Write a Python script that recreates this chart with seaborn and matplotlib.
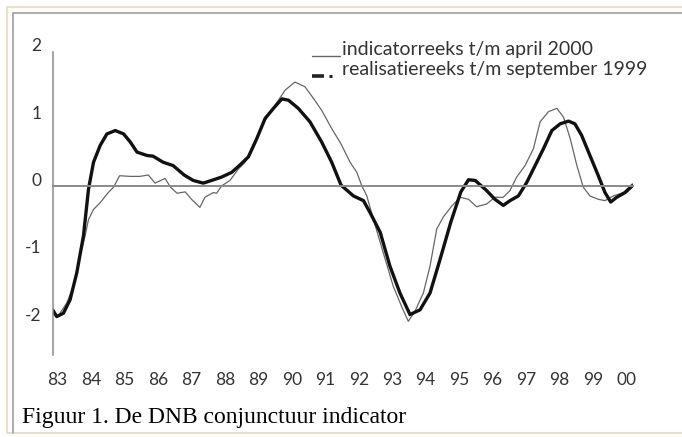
import matplotlib
matplotlib.use("Agg")
import matplotlib.pyplot as plt
import seaborn as sns
import pandas as pd
from matplotlib.ticker import MultipleLocator, FixedLocator
from matplotlib.transforms import ScaledTranslation, blended_transform_factory
from matplotlib.lines import Line2D

# realisatiereeks t/m september 1999 (thick line)
real_x = [1983.0, 1983.12, 1983.32, 1983.52, 1983.72, 1983.92, 1984.07, 1984.22, 1984.42, 1984.62,
          1984.87, 1985.12, 1985.32, 1985.52, 1985.82, 1986.0, 1986.3, 1986.6, 1986.93, 1987.2,
          1987.5, 1987.75, 1988.05, 1988.35, 1988.6, 1988.85, 1989.1, 1989.35, 1989.6, 1989.85,
          1990.05, 1990.34, 1990.69, 1991.04, 1991.34, 1991.62, 1991.99, 1992.29, 1992.49, 1992.79,
          1993.08, 1993.38, 1993.68, 1993.98, 1994.28, 1994.58, 1994.9, 1995.2, 1995.43, 1995.63,
          1995.97, 1996.22, 1996.47, 1996.67, 1996.92, 1997.17, 1997.42, 1997.67, 1997.92, 1998.17,
          1998.42, 1998.61, 1998.81, 1999.06, 1999.31, 1999.51, 1999.68, 1999.86, 2000.11, 2000.33]
real_y = [-1.83, -1.93, -1.88, -1.68, -1.28, -0.73, -0.04, 0.36, 0.61, 0.78,
          0.83, 0.78, 0.66, 0.51, 0.46, 0.45, 0.36, 0.31, 0.17, 0.09,
          0.05, 0.09, 0.14, 0.21, 0.32, 0.44, 0.71, 1.01, 1.16, 1.30,
          1.28, 1.16, 0.96, 0.66, 0.36, 0.02, -0.14, -0.21, -0.39, -0.68,
          -1.18, -1.58, -1.90, -1.83, -1.58, -1.08, -0.53, -0.08, 0.10, 0.09,
          -0.06, -0.19, -0.28, -0.21, -0.14, 0.06, 0.31, 0.56, 0.83, 0.93,
          0.97, 0.93, 0.76, 0.46, 0.16, -0.09, -0.23, -0.16, -0.09, 0.01]

# indicatorreeks t/m april 2000 (thin line)
ind_x = [1983.0, 1983.15, 1983.42, 1983.62, 1983.82, 1983.97, 1984.07, 1984.22, 1984.42, 1984.66,
         1984.82, 1985.0, 1985.32, 1985.6, 1985.86, 1986.06, 1986.36, 1986.52, 1986.72, 1986.96,
         1987.15, 1987.4, 1987.55, 1987.8, 1987.9, 1988.05, 1988.3, 1988.55, 1988.75, 1989.05,
         1989.35, 1989.65, 1989.95, 1990.24, 1990.54, 1990.79, 1991.04, 1991.34, 1991.62, 1991.89,
         1992.09, 1992.24, 1992.39, 1992.59, 1992.88, 1993.18, 1993.43, 1993.63, 1993.83, 1994.08,
         1994.28, 1994.48, 1994.68, 1994.93, 1995.18, 1995.43, 1995.67, 1995.97, 1996.22, 1996.47,
         1996.67, 1996.87, 1997.12, 1997.37, 1997.57, 1997.82, 1998.07, 1998.27, 1998.47, 1998.67,
         1998.86, 1999.06, 1999.31, 1999.51, 1999.76, 2000.06, 2000.33]
ind_y = [-1.88, -1.93, -1.73, -1.48, -1.03, -0.73, -0.49, -0.34, -0.24, -0.09,
         -0.01, 0.16, 0.15, 0.15, 0.17, 0.05, 0.12, -0.01, -0.10, -0.08,
         -0.19, -0.31, -0.16, -0.09, -0.10, 0.01, 0.09, 0.26, 0.36, 0.66,
         0.98, 1.21, 1.43, 1.55, 1.48, 1.31, 1.13, 0.86, 0.63, 0.36,
         0.21, 0.01, -0.14, -0.49, -0.98, -1.48, -1.78, -2.0, -1.85, -1.58,
         -1.18, -0.63, -0.45, -0.29, -0.16, -0.19, -0.30, -0.26, -0.16, -0.16,
         -0.06, 0.14, 0.31, 0.56, 0.96, 1.11, 1.16, 1.03, 0.71, 0.31,
         -0.01, -0.14, -0.19, -0.21, -0.14, -0.09, 0.04]

years = list(range(1983, 2001))
year_labels = ["83", "84", "85", "86", "87", "88", "89", "90", "91", "92",
               "93", "94", "95", "96", "97", "98", "99", "00"]
y_ticks = [-2, -1, 0, 1, 2]
y_labels = ["-2", "-1", "0", "1", "2"]
leg_ind = "indicatorreeks t/m april 2000"
leg_real = "realisatiereeks t/m september 1999"
caption = "Figuur 1. De DNB conjunctuur indicator"

sns.set_style("white")
plt.rcParams["font.family"] = ["Lato", "DejaVu Sans"]

W, H = 682, 437
fig = plt.figure(figsize=(W / 100, H / 100), dpi=100)
fig.patch.set_facecolor("white")


def fx(px):
    return px / W


def fy(py):
    return 1 - py / H


ax = fig.add_axes([fx(52.7), fy(355), fx(633.1) - fx(52.7), fy(51.7) - fy(355)])
ax.set_facecolor("none")

ind_df = pd.DataFrame({"jaar": ind_x, "waarde": ind_y})
real_df = pd.DataFrame({"jaar": real_x, "waarde": real_y})
sns.lineplot(data=ind_df, x="jaar", y="waarde", ax=ax, color="#666666", linewidth=0.9, sort=False)
sns.lineplot(data=real_df, x="jaar", y="waarde", ax=ax, color="#111111", linewidth=2.4, sort=False)

ax.set_xlim(1983, 2000.35)
ax.set_ylim(-2.5, 2.0)
ax.set_xlabel("")
ax.set_ylabel("")

for s in ["top", "right"]:
    ax.spines[s].set_visible(False)
ax.spines["bottom"].set_position(("data", 0))
ax.spines["bottom"].set_color("#8a8a8a")
ax.spines["bottom"].set_linewidth(1.4)
ax.spines["left"].set_color("#8a8a8a")
ax.spines["left"].set_linewidth(1.1)

ax.xaxis.set_major_locator(FixedLocator(years[1:]))
ax.tick_params(axis="x", direction="out", length=4, width=1, color="#8a8a8a", labelbottom=False)
ax.yaxis.set_major_locator(FixedLocator(y_ticks))
ax.yaxis.set_minor_locator(MultipleLocator(0.5))
ax.set_yticklabels(y_labels)
ax.tick_params(axis="y", which="both", direction="out", length=4, width=1, color="#8a8a8a",
               labelsize=12.5, labelcolor="#333333", pad=4)
for lab in ax.get_yticklabels():
    lab.set_transform(lab.get_transform() + ScaledTranslation(0, 5 / 72, fig.dpi_scale_trans))

trans = blended_transform_factory(ax.transData, ax.transAxes)
for yr, lab in zip(years, year_labels):
    ax.text(yr + 0.15, -0.083, lab, transform=trans, ha="center", va="center",
            fontsize=12.5, color="#333333")

# legend drawn as in the original: short line marks on the text baseline
fig.add_artist(Line2D([fx(312), fx(340)], [fy(55.5), fy(55.5)], color="#666666", linewidth=1.0))
fig.add_artist(Line2D([fx(312), fx(324)], [fy(75.5), fy(75.5)], color="#222222", linewidth=2.6,
                      solid_capstyle="butt"))
fig.add_artist(Line2D([fx(329), fx(332)], [fy(75.5), fy(75.5)], color="#222222", linewidth=2.2,
                      solid_capstyle="butt"))
fig.text(fx(342), fy(55.5), leg_ind, fontsize=14, color="#333333", va="baseline")
fig.text(fx(342), fy(75.5), leg_real, fontsize=14, color="#333333", va="baseline")

fig.text(fx(22), fy(422.7), caption, fontsize=17, family="Liberation Serif", color="black", va="baseline")

# page frame
fig.add_artist(Line2D([fx(7), fx(7)], [fy(7), fy(433)], color="#e6e1c8", linewidth=1.5))
fig.add_artist(Line2D([fx(7), fx(682)], [fy(7), fy(7)], color="#e6e1c8", linewidth=1.5))
fig.add_artist(Line2D([fx(7), fx(682)], [fy(433), fy(433)], color="#e6e1c8", linewidth=1.5))
fig.add_artist(Line2D([fx(13), fx(13)], [fy(13), fy(433)], color="#a0a0a0", linewidth=1.2))
fig.add_artist(Line2D([fx(13), fx(682)], [fy(13), fy(13)], color="#a0a0a0", linewidth=1.2))

fig.savefig("out.png", dpi=100)
